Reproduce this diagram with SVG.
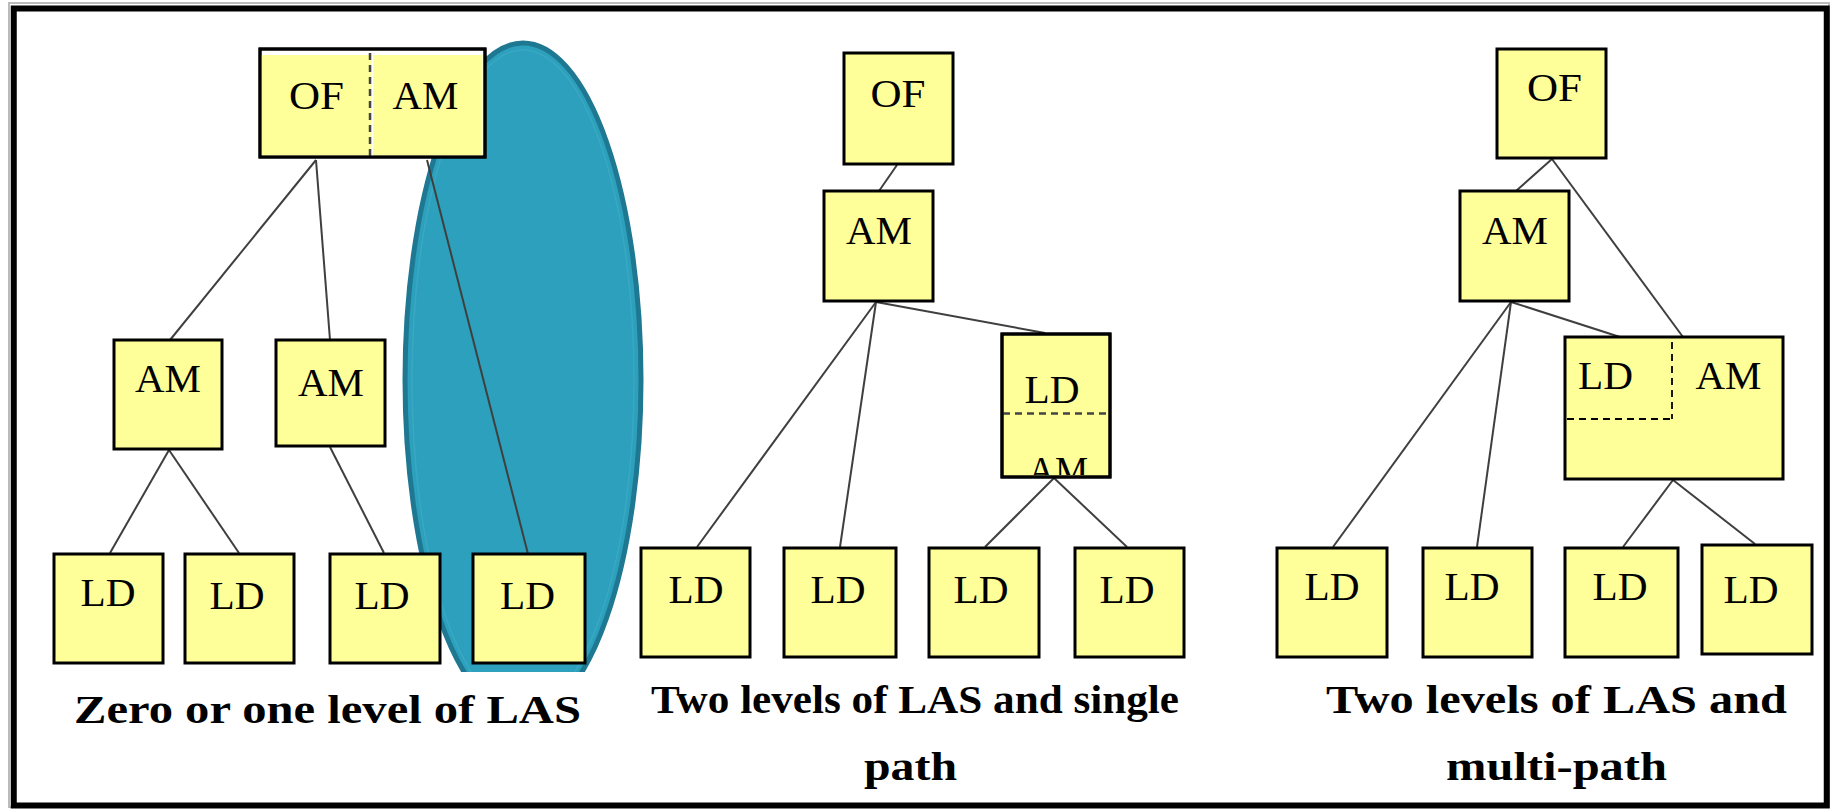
<svg xmlns="http://www.w3.org/2000/svg" width="1833" height="809" viewBox="0 0 1833 809">
<style>
.box{fill:#FFFF99;stroke:#000;stroke-width:3}
.lbl{font-family:"Liberation Serif","DejaVu Serif",serif;font-size:39px;fill:#000;text-anchor:middle}
.cap{font-family:"Liberation Serif","DejaVu Serif",serif;font-size:40px;font-weight:bold;fill:#000}
.conn line{stroke:#3f3f3f;stroke-width:2}
.dash{stroke:#444;stroke-width:2.5;stroke-dasharray:7 5;fill:none}
</style>
<defs>
<clipPath id="ellclip"><rect x="0" y="0" width="1833" height="672"/></clipPath>
<clipPath id="ldamclip"><rect x="1002" y="334" width="108" height="141"/></clipPath>
</defs>
<rect x="0" y="0" width="1833" height="809" fill="#fff"/>
<rect x="9" y="3" width="1820" height="804" fill="none" stroke="#bbb" stroke-width="2"/>
<rect x="13.75" y="8.5" width="1813" height="797" fill="#fff" stroke="#000" stroke-width="6"/>

<g id="highlight" clip-path="url(#ellclip)">
<ellipse cx="523" cy="380" rx="118" ry="337" fill="#2CA0BC" stroke="#1F7892" stroke-width="5"/>
<ellipse cx="523" cy="380" rx="111" ry="330" fill="none" stroke="#3AA8C2" stroke-width="1.5"/>
</g>

<g class="conn" id="connectors">
<line x1="316" y1="160" x2="170" y2="340"/>
<line x1="316" y1="160" x2="330" y2="340"/>
<line x1="427" y1="160" x2="528" y2="554"/>
<line x1="169" y1="450" x2="110" y2="553"/>
<line x1="169" y1="450" x2="239" y2="553"/>
<line x1="330" y1="447" x2="384" y2="553"/>
<line x1="897" y1="165" x2="879" y2="191"/>
<line x1="876" y1="302" x2="697" y2="547"/>
<line x1="876" y1="302" x2="840" y2="547"/>
<line x1="876" y1="302" x2="1045" y2="333"/>
<line x1="1054" y1="478" x2="985" y2="547"/>
<line x1="1054" y1="478" x2="1127" y2="547"/>
<line x1="1552" y1="159" x2="1516" y2="191"/>
<line x1="1552" y1="159" x2="1683" y2="337"/>
<line x1="1511" y1="302" x2="1333" y2="547"/>
<line x1="1511" y1="302" x2="1477" y2="547"/>
<line x1="1511" y1="302" x2="1620" y2="337"/>
<line x1="1673" y1="480" x2="1623" y2="547"/>
<line x1="1673" y1="480" x2="1755" y2="544"/>
</g>

<!-- Column 1 -->
<g id="c1-of-am">
<rect x="260" y="49" width="225" height="108" fill="#fff" stroke="#000" stroke-width="3"/>
<rect x="261.5" y="55" width="221" height="100.5" fill="#FFFF99"/>
<line x1="370" y1="53" x2="370" y2="156" class="dash"/>
<line x1="372.5" y1="53" x2="372.5" y2="156" stroke="#fff" stroke-width="1"/>
<rect x="260" y="49" width="225" height="108" fill="none" stroke="#000" stroke-width="3"/>
<text class="lbl" x="316.5" y="109" textLength="55" lengthAdjust="spacingAndGlyphs">OF</text>
<text class="lbl" x="425.5" y="109" textLength="66" lengthAdjust="spacingAndGlyphs">AM</text>
</g>
<g id="c1-am1"><rect class="box" x="114" y="340" width="108" height="109"/><text class="lbl" x="168" y="392" textLength="66" lengthAdjust="spacingAndGlyphs">AM</text></g>
<g id="c1-am2"><rect class="box" x="276" y="340" width="109" height="106"/><text class="lbl" x="331" y="396" textLength="66" lengthAdjust="spacingAndGlyphs">AM</text></g>
<g id="c1-ld1"><rect class="box" x="54" y="554" width="109" height="109"/><text class="lbl" x="108" y="606" textLength="55" lengthAdjust="spacingAndGlyphs">LD</text></g>
<g id="c1-ld2"><rect class="box" x="185" y="554" width="109" height="109"/><text class="lbl" x="237" y="609" textLength="55" lengthAdjust="spacingAndGlyphs">LD</text></g>
<g id="c1-ld3"><rect class="box" x="330" y="554" width="110" height="109"/><text class="lbl" x="382" y="609" textLength="55" lengthAdjust="spacingAndGlyphs">LD</text></g>
<g id="c1-ld4"><rect class="box" x="473" y="554" width="112" height="109"/><text class="lbl" x="527.5" y="609" textLength="55" lengthAdjust="spacingAndGlyphs">LD</text></g>
<text class="cap" x="74" y="723" textLength="507" lengthAdjust="spacingAndGlyphs">Zero or one level of LAS</text>

<!-- Column 2 -->
<g id="c2-of"><rect class="box" x="844" y="53" width="109" height="111"/><text class="lbl" x="898" y="107" textLength="55" lengthAdjust="spacingAndGlyphs">OF</text></g>
<g id="c2-am"><rect class="box" x="824" y="191" width="109" height="110"/><text class="lbl" x="879" y="244" textLength="66" lengthAdjust="spacingAndGlyphs">AM</text></g>
<g id="c2-ld-am">
<rect class="box" x="1002" y="334" width="108" height="143"/>
<text class="lbl" x="1052" y="403" textLength="55" lengthAdjust="spacingAndGlyphs">LD</text>
<line x1="1003" y1="413.5" x2="1109" y2="413.5" class="dash" stroke-width="3"/>
<text class="lbl" x="1058" y="484" textLength="60" lengthAdjust="spacingAndGlyphs" clip-path="url(#ldamclip)">AM</text>
<rect x="1002" y="334" width="108" height="143" fill="none" stroke="#000" stroke-width="3"/>
</g>
<g id="c2-ld1"><rect class="box" x="641" y="548" width="109" height="109"/><text class="lbl" x="696" y="603" textLength="55" lengthAdjust="spacingAndGlyphs">LD</text></g>
<g id="c2-ld2"><rect class="box" x="784" y="548" width="112" height="109"/><text class="lbl" x="838" y="603" textLength="55" lengthAdjust="spacingAndGlyphs">LD</text></g>
<g id="c2-ld3"><rect class="box" x="929" y="548" width="110" height="109"/><text class="lbl" x="981" y="603" textLength="55" lengthAdjust="spacingAndGlyphs">LD</text></g>
<g id="c2-ld4"><rect class="box" x="1075" y="548" width="109" height="109"/><text class="lbl" x="1127" y="603" textLength="55" lengthAdjust="spacingAndGlyphs">LD</text></g>
<text class="cap" x="651" y="713" textLength="528" lengthAdjust="spacingAndGlyphs">Two levels of LAS and single</text>
<text class="cap" x="864" y="780" textLength="93" lengthAdjust="spacingAndGlyphs">path</text>

<!-- Column 3 -->
<g id="c3-of"><rect class="box" x="1497" y="49" width="109" height="109"/><text class="lbl" x="1554.5" y="101" textLength="55" lengthAdjust="spacingAndGlyphs">OF</text></g>
<g id="c3-am"><rect class="box" x="1460" y="191" width="109" height="110"/><text class="lbl" x="1515" y="244" textLength="66" lengthAdjust="spacingAndGlyphs">AM</text></g>
<g id="c3-ld-am">
<rect class="box" x="1565" y="337" width="218" height="142"/>
<line x1="1672" y1="342" x2="1672" y2="419" stroke="#000" stroke-width="1.8" stroke-dasharray="7 5"/>
<line x1="1567" y1="419" x2="1672" y2="419" stroke="#000" stroke-width="1.8" stroke-dasharray="7 5"/>
<text class="lbl" x="1605.5" y="389" textLength="55" lengthAdjust="spacingAndGlyphs">LD</text>
<text class="lbl" x="1728.5" y="389" textLength="66" lengthAdjust="spacingAndGlyphs">AM</text>
</g>
<g id="c3-ld1"><rect class="box" x="1277" y="548" width="110" height="109"/><text class="lbl" x="1332" y="600" textLength="55" lengthAdjust="spacingAndGlyphs">LD</text></g>
<g id="c3-ld2"><rect class="box" x="1423" y="548" width="109" height="109"/><text class="lbl" x="1472" y="600" textLength="55" lengthAdjust="spacingAndGlyphs">LD</text></g>
<g id="c3-ld3"><rect class="box" x="1565" y="548" width="113" height="109"/><text class="lbl" x="1620" y="600" textLength="55" lengthAdjust="spacingAndGlyphs">LD</text></g>
<g id="c3-ld4"><rect class="box" x="1702" y="545" width="110" height="109"/><text class="lbl" x="1751" y="603" textLength="55" lengthAdjust="spacingAndGlyphs">LD</text></g>
<text class="cap" x="1326" y="713" textLength="461" lengthAdjust="spacingAndGlyphs">Two levels of LAS and</text>
<text class="cap" x="1446" y="780" textLength="221" lengthAdjust="spacingAndGlyphs">multi-path</text>
</svg>
